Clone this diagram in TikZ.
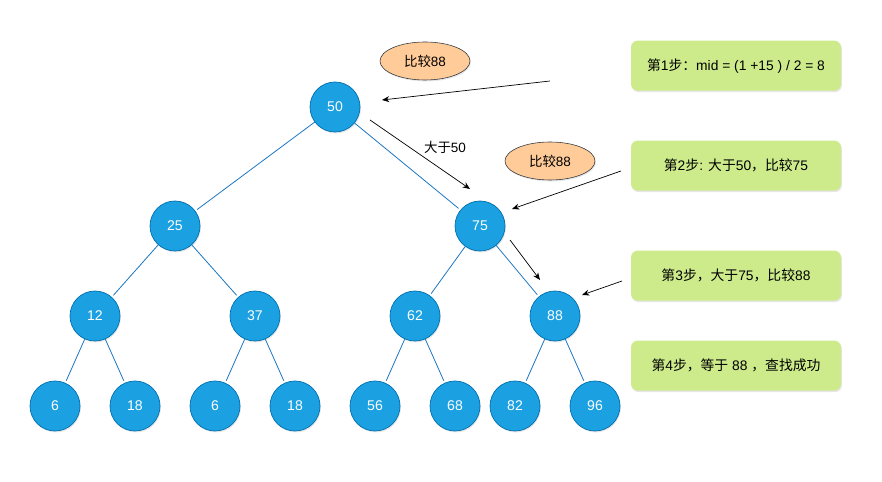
\documentclass[tikz,border=0pt]{standalone}
\usepackage{fontspec}
\setmainfont{Liberation Sans}
\newfontfamily\cjk{Noto Sans CJK SC}
\newcommand{\zh}[1]{{\cjk #1}}
\usetikzlibrary{calc, positioning, shapes, shadows, arrows.meta}

\definecolor{keyfill}{HTML}{1BA1E2}
\definecolor{keyline}{HTML}{006EAF}
\definecolor{linkblue}{HTML}{2078C3}
\definecolor{hintfill}{HTML}{FFCC99}
\definecolor{hintline}{HTML}{36393D}
\definecolor{stepfill}{HTML}{CDEB8B}

\tikzset{
    key/.style={circle, draw=keyline, fill=keyfill, line width=0.6pt, minimum size=1.5cm, inner sep=0pt,
        text=white, font=\fontsize{12}{14}\selectfont,
        drop shadow={shadow xshift=0.8pt, shadow yshift=-1.2pt, opacity=0.2}},
    link/.style={draw=linkblue, line width=0.7pt, shorten >=2pt},
    hint/.style={ellipse, draw=hintline, fill=hintfill, line width=0.5pt, minimum width=2.7cm, minimum height=1.14cm,
        inner sep=0pt, font=\fontsize{11.5}{13}\selectfont,
        drop shadow={shadow xshift=0.8pt, shadow yshift=-1.2pt, opacity=0.2}},
    stepbox/.style={rectangle, rounded corners=0.2cm, fill=stepfill, minimum width=6.3cm, minimum height=1.5cm,
        inner sep=0pt, font=\fontsize{11.8}{14}\selectfont,
        drop shadow={shadow xshift=0.8pt, shadow yshift=-1.2pt, opacity=0.2}},
    pointer/.style={-{Stealth[length=2.2mm, width=1.8mm]}, line width=0.6pt}
}

\begin{document}
\begin{tikzpicture}[on grid]
    \useasboundingbox (0,0) rectangle (26.46,14.46);

    \node[key] (1) at (10.05,11.25) {50};
    \node[key] (2) [below left=3.57cm and 4.8cm of 1] {25};
    \node[key] (3) [below right=3.57cm and 4.35cm of 1] {75};

    \node[key] (4) [below left=2.7cm and 2.4cm of 2] {12};
    \node[key] (5) [below right=2.7cm and 2.4cm of 2] {37};
    \node[key] (6) [below left=2.7cm and 1.95cm of 3] {62};
    \node[key] (7) [below right=2.7cm and 2.25cm of 3] {88};

    \node[key] (8) [below left=2.7cm and 1.2cm of 4] {6};
    \node[key] (9) [below right=2.7cm and 1.2cm of 4] {18};
    \node[key] (10) [below left=2.7cm and 1.2cm of 5] {6};
    \node[key] (11) [below right=2.7cm and 1.2cm of 5] {18};
    \node[key] (12) [below left=2.7cm and 1.2cm of 6] {56};
    \node[key] (13) [below right=2.7cm and 1.2cm of 6] {68};
    \node[key] (14) [below left=2.7cm and 1.2cm of 7] {82};
    \node[key] (15) [below right=2.7cm and 1.2cm of 7] {96};

    \draw[link] (1) -- (2);
    \draw[link] (1) -- (3);
    \draw[link] (2) -- (4);
    \draw[link] (2) -- (5);
    \draw[link] (3) -- (6);
    \draw[link] (3) -- (7);
    \draw[link] (4) -- (8);
    \draw[link] (4) -- (9);
    \draw[link] (5) -- (10);
    \draw[link] (5) -- (11);
    \draw[link] (6) -- (12);
    \draw[link] (6) -- (13);
    \draw[link] (7) -- (14);
    \draw[link] (7) -- (15);

    % comparisons
    \node[hint] (h1) [above right=1.38cm and 2.7cm of 1] {\zh{比较}88};
    \node[hint] (h2) [above right=1.95cm and 2.1cm of 3] {\zh{比较}88};
    \node (gt) [below right=1.2cm and 3.3cm of 1] {\fontsize{11.5}{13}\selectfont\zh{大于}50};

    % steps
    \node[stepbox] (s1) at (22.08,12.49) {\zh{第}1\zh{步：}mid = (1 +15 ) / 2 = 8};
    \node[stepbox] (s2) [below=3cm of s1] {\zh{第}2\zh{步}: \zh{大于}50\zh{，比较}75};
    \node[stepbox] (s3) [below=3.3cm of s2] {\zh{第}3\zh{步，大于}75\zh{，比较}88};
    \node[stepbox] (s4) [below=2.7cm of s3] {\zh{第}4\zh{步，等于} 88 \zh{，查找成功}};

    \coordinate (a1) at ($(1)+(6.45,0.78)$);
    \coordinate (b1) at ($(1)+(1.41,0.21)$);
    \coordinate (a2) at ($(1)+(1.05,-0.39)$);
    \coordinate (b2) at ($(3)+(-0.3,1.11)$);
    \coordinate (a3) at ($(3)+(4.23,1.65)$);
    \coordinate (b3) at ($(3)+(0.96,0.51)$);
    \coordinate (a4) at ($(3)+(0.9,-0.42)$);
    \coordinate (b4) at ($(7)+(-0.45,1.08)$);
    \coordinate (a5) at ($(7)+(2.01,1.05)$);
    \coordinate (b5) at ($(7)+(0.81,0.63)$);

    \draw[pointer] (a1) -- (b1);
    \draw[pointer] (a2) -- (b2);
    \draw[pointer] (a3) -- (b3);
    \draw[pointer] (a4) -- (b4);
    \draw[pointer] (a5) -- (b5);
\end{tikzpicture}
\end{document}
